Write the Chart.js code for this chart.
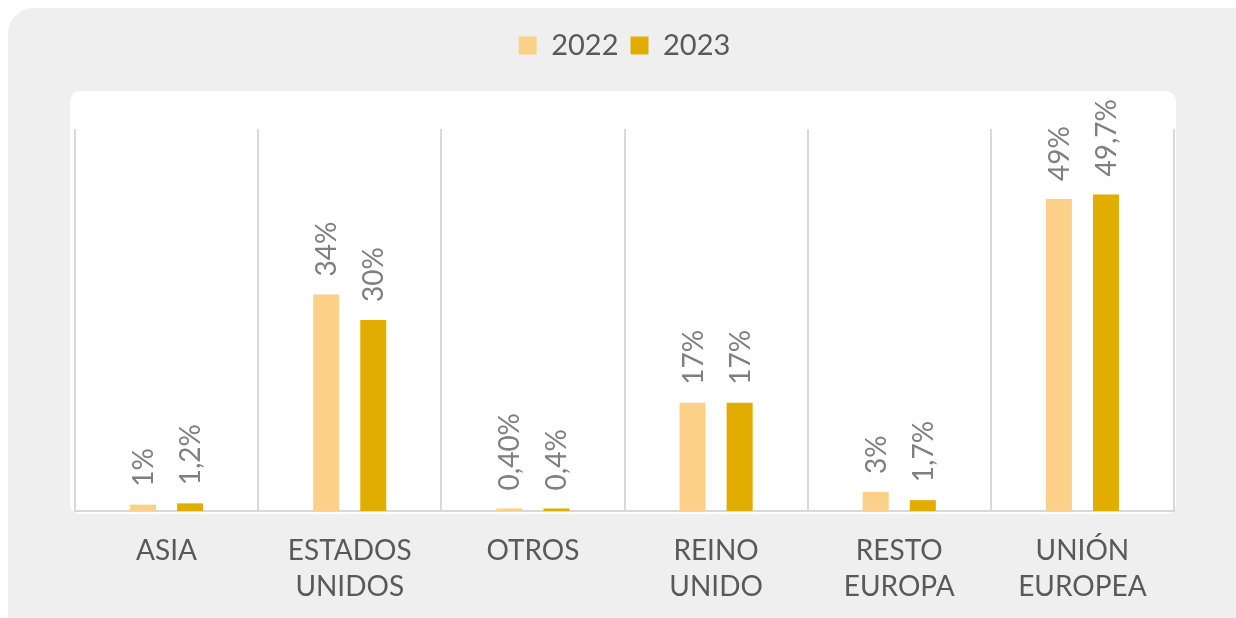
<!DOCTYPE html>
<html lang="es">
<head>
  <meta charset="UTF-8">
  <title>Destino 2022 / 2023</title>
  <script src="https://cdn.jsdelivr.net/npm/chart.js@4"></script>
  <style>
    html, body { margin: 0; padding: 0; background: #ffffff; }
    #wrap { width: 1236px; height: 618px; }
  </style>
</head>
<body>
<div id="wrap">
  <canvas id="chart" width="1236" height="618"></canvas>
</div>

<script>
  // data
  const categories = [['ASIA'], ['ESTADOS', 'UNIDOS'], ['OTROS'], ['REINO', 'UNIDO'], ['RESTO', 'EUROPA'], ['UNIÓN', 'EUROPEA']];
  const values2022 = [1, 34, 0.4, 17, 3, 49];
  const values2023 = [1.2, 30, 0.4, 17, 1.7, 49.7];
  const labels2022 = ['1%', '34%', '0,40%', '17%', '3%', '49%'];
  const labels2023 = ['1,2%', '30%', '0,4%', '17%', '1,7%', '49,7%'];

  const FONT = 'Lato, "DejaVu Sans", sans-serif';

  function roundRect(ctx, x, y, w, h, r) {
    ctx.beginPath();
    ctx.moveTo(x + r, y);
    ctx.arcTo(x + w, y, x + w, y + h, r);
    ctx.arcTo(x + w, y + h, x, y + h, r);
    ctx.arcTo(x, y + h, x, y, r);
    ctx.arcTo(x, y, x + w, y, r);
    ctx.closePath();
  }

  // gray panel + white plot card behind everything
  const panels = {
    id: 'panels',
    beforeDraw(chart) {
      const ctx = chart.ctx;
      const a = chart.chartArea;
      ctx.save();
      ctx.fillStyle = '#ffffff';
      ctx.fillRect(0, 0, chart.width, chart.height);
      ctx.fillStyle = '#efefef';
      roundRect(ctx, 8, 8, chart.width + 20, chart.height + 20, 26);
      ctx.fill();
      ctx.fillStyle = '#ffffff';
      roundRect(ctx, a.left - 5, a.top - 38, a.right - a.left + 7, a.bottom - a.top + 41, 10);
      ctx.fill();
      ctx.restore();
    }
  };

  // extra room between legend and plot
  const legendGap = {
    id: 'legendGap',
    beforeInit(chart) {
      const fit = chart.legend.fit;
      chart.legend.fit = function () {
        fit.bind(chart.legend)();
        this.height += 59;
      };
    }
  };

  // rotated value labels above bars
  const valueLabels = {
    id: 'valueLabels',
    afterDatasetsDraw(chart) {
      const ctx = chart.ctx;
      ctx.save();
      ctx.font = '28px ' + FONT;
      ctx.fillStyle = '#7f7f7f';
      ctx.textAlign = 'left';
      ctx.textBaseline = 'middle';
      chart.data.datasets.forEach((ds, di) => {
        chart.getDatasetMeta(di).data.forEach((bar, i) => {
          ctx.save();
          ctx.translate(bar.x + 1, bar.y - 18);
          ctx.rotate(-Math.PI / 2);
          ctx.fillText(ds.valueText[i], 0, 0);
          ctx.restore();
        });
      });
      ctx.restore();
    }
  };

  new Chart(document.getElementById('chart'), {
    type: 'bar',
    data: {
      labels: categories,
      datasets: [
        {
          label: '2022',
          data: values2022,
          valueText: labels2022,
          backgroundColor: '#fcd088'
        },
        {
          label: '2023',
          data: values2023,
          valueText: labels2023,
          backgroundColor: '#e2ac00'
        }
      ]
    },
    plugins: [panels, legendGap, valueLabels],
    options: {
      responsive: false,
      animation: false,
      categoryPercentage: 0.514,
      barPercentage: 0.553,
      layout: {
        padding: { left: 75, right: 62, top: 19, bottom: 13 }
      },
      plugins: {
        legend: {
          position: 'top',
          labels: {
            boxWidth: 18,
            boxHeight: 18,
            padding: 12,
            color: '#595959',
            font: { family: FONT, size: 29 }
          }
        },
        tooltip: { enabled: false }
      },
      scales: {
        x: {
          afterFit(scale) {
            scale.height = 94;
          },
          grid: {
            color: '#d9d9d9',
            lineWidth: 2,
            drawTicks: false
          },
          border: { color: '#d9d9d9', width: 2 },
          ticks: {
            color: '#595959',
            padding: 22,
            font: { family: FONT, size: 28, lineHeight: '36px' }
          }
        },
        y: {
          display: false,
          min: 0,
          max: 60
        }
      }
    }
  });
</script>
</body>
</html>
